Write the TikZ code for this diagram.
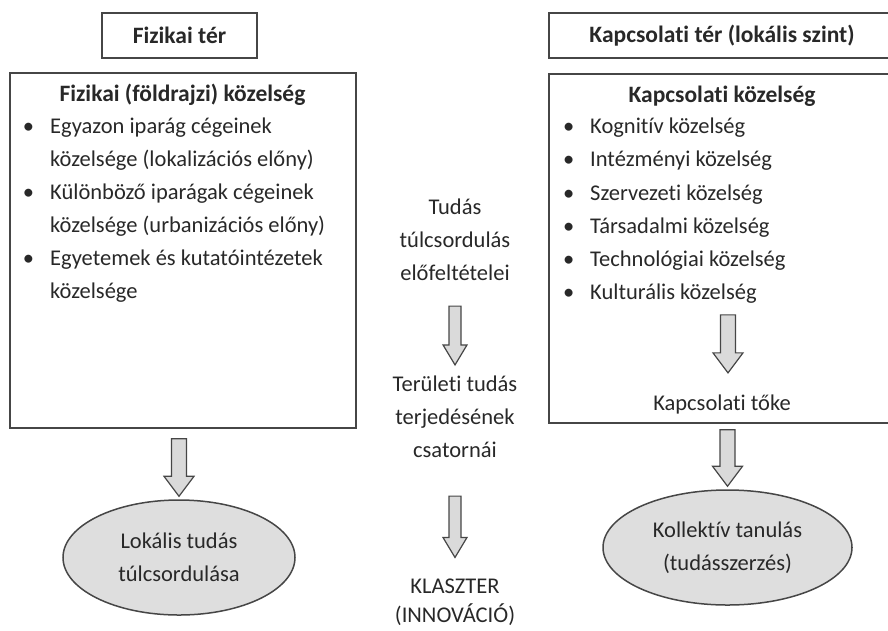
\documentclass[tikz,border=0pt]{standalone}
\usepackage{fontspec}
\setmainfont{Carlito}[Ligatures={NoCommon,NoRare}]
\usetikzlibrary{positioning, shapes.geometric, calc}

\definecolor{ink}{RGB}{40,40,40}
\definecolor{edge}{RGB}{70,70,70}
\definecolor{shade}{RGB}{222,222,222}
\definecolor{arrowfill}{RGB}{218,218,218}

\newcommand{\bul}{\llap{\textbullet\hspace{16pt}}}
% block arrow: top point, tip point, half shaft width
\newcommand{\fatarrow}[3]{%
  \draw[fatarrow] ($(#1)+(-#3,0)$) -- ($(#2)+(-#3,-20)$) -- ($(#2)+(-2*#3,-20)$) -- (#2)
    -- ($(#2)+(2*#3,-20)$) -- ($(#2)+(#3,-20)$) -- ($(#1)+(#3,0)$) -- cycle;}

\begin{document}
\begin{tikzpicture}[x=1pt, y=-1pt,
    every node/.style={font=\fontsize{22.5}{33}\selectfont, text=ink},
    spacebox/.style={rectangle, draw=edge, line width=1.5pt, minimum height=45pt, inner sep=0pt, font=\fontsize{23.5}{33}\selectfont\bfseries},
    bigbox/.style={rectangle, draw=edge, line width=1.5pt, minimum width=346pt, inner sep=0pt},
    heading/.style={font=\fontsize{23.5}{33}\selectfont\bfseries},
    listline/.style={anchor=base west, inner sep=0pt},
    midtext/.style={align=center, inner sep=0pt},
    outcome/.style={ellipse, draw=edge, line width=1.5pt, fill=shade, align=center, inner sep=0pt},
    fatarrow/.style={draw=edge, line width=1.2pt, fill=arrowfill, line join=miter}
  ]
  \useasboundingbox (0,0) rectangle (888,630);
  \clip (0,0) rectangle (888,630);

  % Top boxes
  \node[spacebox, minimum width=155pt] (fizter) at (179.5,35.5) {Fizikai tér};
  \node[spacebox, minimum width=346pt] (kapter) at (722,35.5) {Kapcsolati tér (lokális szint)};

  % Big boxes
  \node[bigbox, minimum height=355pt] (fizbox) at (183,250.5) {};
  \node[bigbox, minimum height=349pt] (kapbox) at (722,248.5) {};

  % Physical proximity
  \node[heading] (fizhead) at (182.5,95) {Fizikai (földrajzi) közelség};
  \node[listline] (fiz1) at (50,133) {\bul Egyazon iparág cégeinek};
  \node[listline] (fiz2) at (50,166) {közelsége (lokalizációs előny)};
  \node[listline] (fiz3) at (50,199) {\bul Különböző iparágak cégeinek};
  \node[listline] (fiz4) at (50,232) {közelsége (urbanizációs előny)};
  \node[listline] (fiz5) at (50,265) {\bul Egyetemek és kutatóintézetek};
  \node[listline] (fiz6) at (50,298) {közelsége};

  % Relational proximity
  \node[heading] (kaphead) at (722,96) {Kapcsolati közelség};
  \node[listline] (kap1) at (590,133) {\bul Kognitív közelség};
  \node[listline] (kap2) at (590,166.5) {\bul Intézményi közelség};
  \node[listline] (kap3) at (590,200) {\bul Szervezeti közelség};
  \node[listline] (kap4) at (590,233) {\bul Társadalmi közelség};
  \node[listline] (kap5) at (590,266) {\bul Technológiai közelség};
  \node[listline] (kap6) at (590,299.5) {\bul Kulturális közelség};
  \node (kaptoke) at (722,404) {Kapcsolati tőke};

  % Middle column
  \node[midtext] (premise) at (455,240) {Tudás\\túlcsordulás\\előfeltételei};
  \node[midtext] (channels) at (455,417) {Területi tudás\\terjedésének\\csatornái};
  \node[midtext, font=\fontsize{22.5}{29}\selectfont] (cluster) at (455,602) {KLASZTER\\(INNOVÁCIÓ)};

  % Outcomes
  \node[outcome, minimum width=232pt, minimum height=115pt] (lokalis) at (179,557.5) {Lokális tudás\\túlcsordulása};
  \node[outcome, minimum width=249pt, minimum height=115pt] (kollektiv) at (727.5,547.5) {Kollektív tanulás\\(tudásszerzés)};

  % Arrows
  \coordinate (fizarrtop) at ($(fizbox.south -| lokalis.north)+(0,10)$);
  \coordinate (fizarrtip) at ($(lokalis.north)+(0,-3)$);
  \fatarrow{fizarrtop}{fizarrtip}{7.5}

  \coordinate (midarrtop) at ($(premise.south)+(0,25)$);
  \coordinate (midarrtip) at ($(channels.north)+(0,-11)$);
  \fatarrow{midarrtop}{midarrtip}{6}

  \coordinate (clusterarrtop) at ($(channels.south)+(0,38)$);
  \coordinate (clusterarrtip) at ($(cluster.north)+(0,-21)$);
  \fatarrow{clusterarrtop}{clusterarrtip}{6}

  \coordinate (tokearrtop) at ($(kaptoke.north)+(6,-76)$);
  \coordinate (tokearrtip) at ($(kaptoke.north)+(6,-18)$);
  \fatarrow{tokearrtop}{tokearrtip}{7.5}

  \coordinate (kaparrtop) at ($(kapbox.south -| kollektiv.north)+(0,6)$);
  \coordinate (kaparrtip) at ($(kollektiv.north)+(0,-3)$);
  \fatarrow{kaparrtop}{kaparrtip}{7.5}
\end{tikzpicture}
\end{document}
